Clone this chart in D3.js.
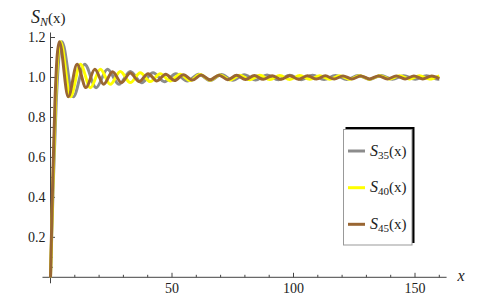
<!DOCTYPE html>
<html><head><meta charset="utf-8">
<script src="https://cdn.jsdelivr.net/npm/d3@7"></script>
<style>body{margin:0;background:#fff} svg{display:block}</style>
</head><body><svg id="c" width="496" height="306"></svg>
<script>
// ---- data (turning points of each partial sum) ----
const subscripts = ["35", "40", "45"];
const colors = ["#8c8c8c", "#ffff00", "#996633"];
const s35 = [[0,0],[1.17,0.483],[2.35,0.873],[3.52,1.108],[4.69,1.179],[9.38,0.903],[14.07,1.066],[18.76,0.9491],[23.45,1.0409],[28.14,0.9658],[32.83,1.0294],[37.52,0.9741],[42.21,1.0231],[46.90,0.9790],[51.59,1.0192],[56.28,0.9823],[60.97,1.0165],[65.66,0.9845],[70.35,1.0146],[75.04,0.9862],[79.73,1.0132],[84.42,0.9874],[89.11,1.0121],[93.80,0.9884],[98.49,1.0112],[103.18,0.9891],[107.87,1.0106],[112.56,0.9897],[117.25,1.0101],[121.94,0.9901],[126.63,1.0097],[131.32,0.9904],[136.01,1.0094],[140.70,0.9907],[145.39,1.0092],[150.08,0.9908],[154.77,1.0091],[159.46,0.9909],[160,0.9910]];
const s40 = [[0,0],[1.03,0.483],[2.05,0.873],[3.08,1.108],[4.10,1.179],[8.21,0.903],[12.31,1.066],[16.42,0.9491],[20.52,1.0408],[24.62,0.9659],[28.73,1.0293],[32.83,0.9742],[36.93,1.0230],[41.04,0.9792],[45.14,1.0190],[49.25,0.9825],[53.35,1.0163],[57.45,0.9848],[61.56,1.0143],[65.66,0.9865],[69.76,1.0129],[73.87,0.9877],[77.97,1.0117],[82.08,0.9887],[86.18,1.0108],[90.28,0.9895],[94.39,1.0101],[98.49,0.9902],[102.60,1.0096],[106.70,0.9907],[110.80,1.0091],[114.91,0.9911],[119.01,1.0088],[123.11,0.9914],[127.22,1.0085],[131.32,0.9916],[135.43,1.0083],[139.53,0.9918],[143.63,1.0081],[147.74,0.9919],[151.84,1.0080],[155.94,0.9920],[160,1.0080]];
const s45 = [[0,0],[0.91,0.483],[1.82,0.873],[2.74,1.108],[3.65,1.179],[7.30,0.903],[10.94,1.066],[14.59,0.9492],[18.24,1.0407],[21.89,0.9660],[25.53,1.0292],[29.18,0.9743],[32.83,1.0229],[36.48,0.9793],[40.13,1.0189],[43.77,0.9826],[47.42,1.0161],[51.07,0.9849],[54.72,1.0141],[58.36,0.9867],[62.01,1.0126],[65.66,0.9880],[69.31,1.0115],[72.96,0.9890],[76.60,1.0106],[80.25,0.9898],[83.90,1.0098],[87.55,0.9905],[91.20,1.0092],[94.84,0.9910],[98.49,1.0087],[102.14,0.9915],[105.79,1.0083],[109.43,0.9918],[113.08,1.0080],[116.73,0.9921],[120.38,1.0077],[124.03,0.9924],[127.67,1.0075],[131.32,0.9926],[134.97,1.0074],[138.62,0.9927],[142.26,1.0072],[145.91,0.9928],[149.56,1.0071],[153.21,0.9929],[156.86,1.0071],[160,0.9936]];
const xMajor = [50, 100, 150];
const xMinor = [10,20,30,40,60,70,80,90,110,120,130,140,160];
const yMajor = [0.2, 0.4, 0.6, 0.8, 1.0, 1.2];
const yMinor = [0.05,0.1,0.15,0.25,0.3,0.35,0.45,0.5,0.55,0.65,0.7,0.75,0.85,0.9,0.95,1.05,1.1,1.15];

// ---- drawing ----
const svg = d3.select("#c");
const FONT = "Liberation Serif";
const x = d3.scaleLinear().domain([0, 150]).range([50.5, 415]);
const y = d3.scaleLinear().domain([0, 1.2]).range([277.3, 37.5]);
const axisColor = "#444";
const txtColor = "#222";

// x axis
const gx = svg.append("g");
gx.append("line").attr("x1", x(-3.3)).attr("x2", x(163)).attr("y1", y(0)).attr("y2", y(0))
  .attr("stroke", axisColor).attr("stroke-width", 1);
gx.selectAll(".xmaj").data(xMajor).join("line")
  .attr("x1", d => x(d)).attr("x2", d => x(d)).attr("y1", y(0)).attr("y2", y(0) - 4.5)
  .attr("stroke", axisColor);
gx.selectAll(".xmin").data(xMinor).join("line")
  .attr("x1", d => x(d)).attr("x2", d => x(d)).attr("y1", y(0)).attr("y2", y(0) - 2.5)
  .attr("stroke", axisColor);
gx.selectAll(".xl").data(xMajor).join("text")
  .attr("x", d => x(d)).attr("y", 293).attr("text-anchor", "middle")
  .attr("font-family", FONT).attr("fill", txtColor)
  .attr("font-size", 14).text(d => d);
svg.append("text").attr("x", 461).attr("y", 281).attr("text-anchor", "middle")
  .attr("font-family", FONT).attr("fill", txtColor)
  .attr("font-size", 16).attr("font-style", "italic").text("x");

// y axis
const gy = svg.append("g");
gy.append("line").attr("x1", x(0)).attr("x2", x(0)).attr("y1", y(-0.03)).attr("y2", y(1.225))
  .attr("stroke", axisColor).attr("stroke-width", 1);
gy.selectAll(".ymaj").data(yMajor).join("line")
  .attr("x1", x(0)).attr("x2", x(0) + 4.5).attr("y1", d => y(d)).attr("y2", d => y(d))
  .attr("stroke", axisColor);
gy.selectAll(".ymin").data(yMinor).join("line")
  .attr("x1", x(0)).attr("x2", x(0) + 2.5).attr("y1", d => y(d)).attr("y2", d => y(d))
  .attr("stroke", axisColor);
gy.selectAll(".yl").data(yMajor).join("text")
  .attr("x", 45.5).attr("y", d => y(d) + 4.5).attr("text-anchor", "end")
  .attr("font-family", FONT).attr("fill", txtColor)
  .attr("font-size", 14).text(d => d.toFixed(1));

// y axis title S_N(x)
const t = svg.append("text").attr("x", 31).attr("y", 23).attr("font-family", FONT).attr("fill", txtColor);
t.append("tspan").attr("font-size", 18).attr("font-style", "italic").text("S");
t.append("tspan").attr("font-size", 12).attr("font-style", "italic").attr("dy", 3).text("N");
t.append("tspan").attr("font-size", 15).attr("dy", -3).text("(x)");

// curves
const line = d3.line().x(d => x(d[0])).y(d => y(d[1])).curve(d3.curveMonotoneX);
[s35, s40, s45].forEach((s, i) => {
  svg.append("path").datum(s).attr("d", line).attr("fill", "none")
    .attr("stroke", colors[i]).attr("stroke-width", 3).attr("stroke-linejoin", "round");
});

// legend
const lg = svg.append("g");
lg.append("rect").attr("x", 345.5).attr("y", 127).attr("width", 69).attr("height", 116).attr("fill", "#000");
lg.append("rect").attr("x", 343.5).attr("y", 129.5).attr("width", 68.5).attr("height", 115.5)
  .attr("fill", "#fff").attr("stroke", "#999").attr("stroke-width", 1);
const rowY = [151, 187.7, 224.3];
subscripts.forEach((sub, i) => {
  lg.append("line").attr("x1", 348).attr("x2", 365).attr("y1", rowY[i]).attr("y2", rowY[i])
    .attr("stroke", colors[i]).attr("stroke-width", 3);
  const tx = lg.append("text").attr("x", 370).attr("y", rowY[i] + 4.5)
    .attr("font-family", FONT).attr("fill", txtColor);
  tx.append("tspan").attr("font-size", 16).attr("font-style", "italic").text("S");
  tx.append("tspan").attr("font-size", 11).attr("dy", 3).text(sub);
  tx.append("tspan").attr("font-size", 15).attr("dy", -3).text("(x)");
});
</script>
</body></html>
